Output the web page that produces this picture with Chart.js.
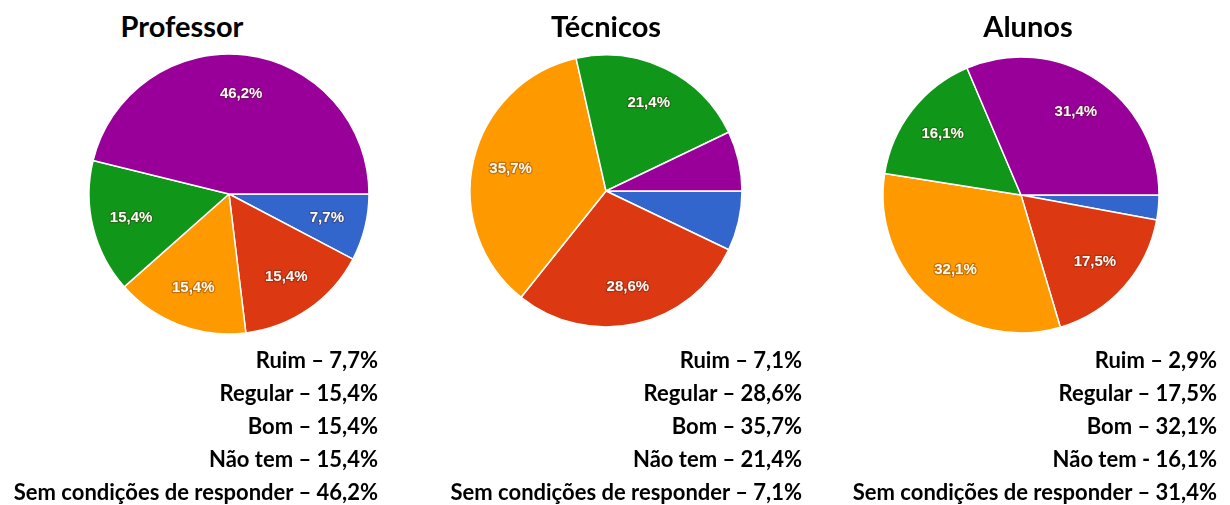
<!DOCTYPE html>
<html>
<head>
<meta charset="utf-8">
<script src="https://cdn.jsdelivr.net/npm/chart.js@4"></script>
<style>
  html, body { margin: 0; padding: 0; background: #fff; }
  body { width: 1230px; height: 505px; position: relative; overflow: hidden; font-family: Lato, "Open Sans", sans-serif; }
  .title { position: absolute; top: 9px; width: 300px; text-align: center; font-weight: 700; font-size: 29px; line-height: 34px; color: #000; }
  .legend { position: absolute; top: 343px; width: 440px; text-align: right; font-weight: 700; font-size: 22px; line-height: 33px; color: #000; white-space: nowrap; }
  canvas { position: absolute; }
</style>
</head>
<body>
<script>
// Response categories, in slice order (clockwise from 3 o'clock)
const categories = ['Ruim', 'Regular', 'Bom', 'Não tem', 'Sem condições de responder'];

// Percentages per group
const professorValues = [7.7, 15.4, 15.4, 15.4, 46.2];
const tecnicosValues  = [7.1, 28.6, 35.7, 21.4, 7.1];
const alunosValues    = [2.9, 17.5, 32.1, 16.1, 31.4];

// Separator used in each group's legend lines
const professorSeps = ['–', '–', '–', '–', '–'];
const tecnicosSeps  = ['–', '–', '–', '–', '–'];
const alunosSeps    = ['–', '–', '–', '-', '–'];

const groupTitles = ['Professor', 'Técnicos', 'Alunos'];

const sliceColors = ['#3366CC', '#DC3912', '#FF9900', '#109618', '#990099'];

const groups = [
  { title: groupTitles[0], values: professorValues, seps: professorSeps, cx: 229, cy: 194, r: 140, titleX: 182, legendRight: 378 },
  { title: groupTitles[1], values: tecnicosValues,  seps: tecnicosSeps,  cx: 606, cy: 191, r: 136, titleX: 606, legendRight: 802 },
  { title: groupTitles[2], values: alunosValues,    seps: alunosSeps,    cx: 1021, cy: 195, r: 138, titleX: 1028, legendRight: 1217 }
];

const fmt = v => v.toFixed(1).replace('.', ',') + '%';

// Percentage text inside slices that are large enough
const sliceLabels = {
  id: 'sliceLabels',
  afterDatasetsDraw(chart) {
    const ctx = chart.ctx;
    const meta = chart.getDatasetMeta(0);
    const data = chart.data.datasets[0].data;
    ctx.save();
    ctx.font = 'bold 15px "Liberation Sans", Arial, sans-serif';
    ctx.textAlign = 'center';
    ctx.textBaseline = 'middle';
    meta.data.forEach((arc, i) => {
      if (data[i] < 7.5) return;
      const p = arc.getProps(['x', 'y', 'startAngle', 'endAngle', 'outerRadius'], true);
      const mid = (p.startAngle + p.endAngle) / 2;
      const d = p.outerRadius * 0.72;
      const x = p.x + Math.cos(mid) * d;
      const y = p.y + Math.sin(mid) * d;
      const t = fmt(data[i]);
      ctx.lineWidth = 2.5;
      ctx.lineJoin = 'round';
      ctx.strokeStyle = 'rgba(70,30,30,0.3)';
      ctx.strokeText(t, x, y);
      ctx.fillStyle = '#fdfbf4';
      ctx.fillText(t, x, y);
    });
    ctx.restore();
  }
};

groups.forEach(g => {
  const size = 300;
  const canvas = document.createElement('canvas');
  canvas.width = size;
  canvas.height = size;
  canvas.style.width = size + 'px';
  canvas.style.height = size + 'px';
  canvas.style.left = (g.cx - size / 2) + 'px';
  canvas.style.top = (g.cy - size / 2) + 'px';
  document.body.appendChild(canvas);

  new Chart(canvas, {
    type: 'pie',
    data: {
      labels: categories,
      datasets: [{
        data: g.values,
        backgroundColor: sliceColors,
        borderColor: '#ffffff',
        borderWidth: 1.5,
        hoverOffset: 0
      }]
    },
    options: {
      responsive: false,
      animation: false,
      rotation: 90,
      radius: g.r,
      layout: { padding: 0 },
      plugins: { legend: { display: false }, tooltip: { enabled: false } },
      events: []
    },
    plugins: [sliceLabels]
  });

  const title = document.createElement('div');
  title.className = 'title';
  title.textContent = g.title;
  title.style.left = (g.titleX - 150) + 'px';
  document.body.appendChild(title);

  const legend = document.createElement('div');
  legend.className = 'legend';
  legend.style.left = (g.legendRight - 440) + 'px';
  legend.innerHTML = categories.map((c, i) => `<div>${c} ${g.seps[i]} ${fmt(g.values[i])}</div>`).join('');
  document.body.appendChild(legend);
});
</script>
</body>
</html>
